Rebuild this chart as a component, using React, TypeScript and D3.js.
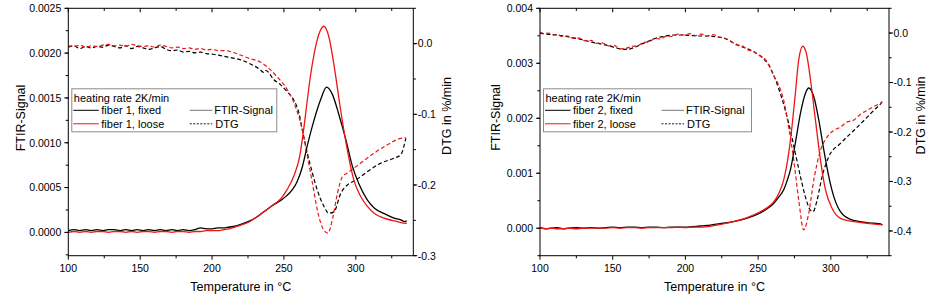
import React from 'react';
import * as d3 from 'd3';

type P = [number, number];

// ---------- data ----------
const xTickValues = [100, 150, 200, 250, 300];

const ftirTicks1 = [0, 0.0005, 0.001, 0.0015, 0.002, 0.0025];
const dtgTicks1 = [0, -0.1, -0.2, -0.3];
const ftirTicks2 = [0, 0.001, 0.002, 0.003, 0.004];
const dtgTicks2 = [0, -0.1, -0.2, -0.3, -0.4];

const legendTitle = 'heating rate 2K/min';
const labels1 = ['fiber 1, fixed', 'fiber 1, loose'];
const labels2 = ['fiber 2, fixed', 'fiber 2, loose'];
const typeLabels = ['FTIR-Signal', 'DTG'];

const fiber1FixedFTIR: P[] = [[100,0.00002],[104,0.00003],[108,0.00002],[112,0.00003],[116,0.00002],[120,0.00003],[124,0.00002],[128,0.00003],[132,0.00003],[136,0.00002],[140,0.00003],[144,0.00002],[148,0.00003],[152,0.00002],[156,0.00003],[160,0.00002],[164,0.00003],[168,0.00002],[172,0.00003],[176,0.00002],[180,0.00003],[184,0.00002],[188,0.00003],[192,0.00005],[196,0.00004],[200,0.00004],[204,0.00005],[208,0.00005],[212,0.00006],[216,0.00007],[220,0.00009],[225,0.00012],[230,0.00016],[236,0.00023],[242,0.0003],[248,0.00036],[252,0.00041],[256,0.00048],[259,0.00056],[262.8,0.00073],[266.3,0.00097],[270.9,0.00125],[275.5,0.00148],[279.7,0.00162],[283.7,0.00154],[288.3,0.00131],[293,0.00104],[297.6,0.00074],[302.2,0.00054],[308.1,0.00036],[313,0.00027],[319.7,0.00021],[326.6,0.00016],[331.3,0.00014],[334,0.00012],[335.5,0.00013]];

const fiber1LooseFTIR: P[] = [[100,0.0],[104,0.00001],[108,0.0],[112,0.00001],[116,0.0],[120,0.00001],[124,0.00001],[128,0.0],[132,0.00001],[136,0.00001],[140,0.0],[144,0.00001],[148,0.0],[152,0.00001],[156,0.00001],[160,0.0],[164,0.00001],[168,0.00001],[172,0.0],[176,0.00001],[180,0.00001],[184,0.0],[188,0.00001],[192,0.00001],[196,0.00002],[200,0.00002],[204,0.00002],[208,0.00003],[212,0.00004],[216,0.00006],[220,0.00008],[225,0.00011],[230,0.00016],[236,0.00023],[242,0.0003],[248,0.00038],[252.3,0.00048],[256.9,0.00063],[261,0.00085],[263.5,0.00112],[266.3,0.00148],[268.5,0.00175],[270.9,0.00198],[274.3,0.00221],[277.8,0.0023],[281.3,0.00218],[284.8,0.00187],[289.5,0.00136],[294.1,0.00092],[298.7,0.00058],[303.4,0.0004],[308.1,0.00029],[313,0.00021],[319.7,0.00016],[326,0.00013],[331.3,0.00011],[335.5,0.0001]];

const fiber1FixedDTG: P[] = [[100,-0.005],[104,-0.003],[108,-0.007],[112,-0.004],[116,-0.006],[120,-0.004],[124,-0.005],[128,-0.002],[132,-0.004],[136,-0.006],[140,-0.003],[144,-0.007],[148,-0.004],[152,-0.006],[156,-0.008],[160,-0.006],[164,-0.004],[168,-0.008],[172,-0.01],[176,-0.009],[180,-0.012],[184,-0.011],[188,-0.013],[192,-0.012],[196,-0.014],[201,-0.015],[206,-0.017],[211,-0.019],[216,-0.021],[220,-0.023],[226,-0.028],[233.6,-0.037],[236,-0.041],[237.5,-0.038],[243,-0.051],[247.6,-0.058],[252.3,-0.068],[256.9,-0.08],[260.4,-0.098],[262.8,-0.122],[266.3,-0.155],[269.8,-0.183],[273.2,-0.207],[277.8,-0.23],[281.3,-0.24],[284.8,-0.238],[289.5,-0.212],[294.1,-0.2],[300,-0.193],[308.1,-0.181],[317.4,-0.169],[326.6,-0.162],[331.3,-0.157],[334.8,-0.134]];

const fiber1LooseDTG: P[] = [[100,-0.003],[104,-0.004],[108,-0.002],[112,-0.005],[116,-0.003],[120,-0.004],[124,-0.002],[128,-0.001],[132,-0.003],[136,-0.002],[140,-0.004],[144,-0.001],[148,-0.003],[152,-0.004],[156,-0.003],[160,-0.005],[164,-0.002],[168,-0.004],[172,-0.006],[176,-0.005],[180,-0.007],[184,-0.006],[188,-0.008],[192,-0.007],[196,-0.009],[200,-0.008],[205,-0.01],[210,-0.01],[214,-0.012],[219.7,-0.016],[226,-0.021],[233.6,-0.026],[239,-0.034],[245.3,-0.047],[252.3,-0.065],[258,-0.089],[262.8,-0.122],[266.3,-0.159],[269.8,-0.197],[273.2,-0.235],[277.8,-0.264],[280.6,-0.268],[283.7,-0.249],[287.2,-0.212],[290.7,-0.188],[294.1,-0.183],[303.4,-0.169],[312.7,-0.155],[322,-0.143],[331.3,-0.134],[334.8,-0.133]];

const fiber2FixedFTIR: P[] = [[100,0.00001],[104,-0.00001],[108,0.0],[112,0.00001],[116,-0.00001],[120,0.0],[125,0.00001],[130,0.0],[135,0.00001],[140,0.0],[145,0.00001],[150,0.00002],[155,0.00001],[160,0.00002],[165,0.00002],[170,0.00001],[175,0.00002],[180,0.00002],[185,0.00001],[190,0.00002],[195,0.00002],[200,0.00002],[205,0.00003],[210,0.00004],[215,0.00005],[220,0.00007],[226,0.00009],[233,0.00012],[242,0.00018],[251.5,0.00028],[256,0.00035],[260.7,0.00045],[264,0.00056],[267.6,0.0007],[270,0.00087],[272.2,0.00106],[275.6,0.00155],[279.1,0.00209],[282.5,0.00245],[284.8,0.00255],[288.3,0.00239],[291.7,0.00197],[295.2,0.00142],[298.6,0.00094],[302.1,0.00057],[306.6,0.0003],[313.5,0.00016],[320,0.00012],[325,0.0001],[330,0.00009],[334.2,0.00008],[335.5,0.00006]];

const fiber2LooseFTIR: P[] = [[100,0.0],[104,-0.00001],[108,0.0],[112,-0.00001],[116,-0.00001],[120,0.0],[125,-0.00001],[130,0.0],[135,0.0],[140,0.0],[145,0.0],[150,0.00001],[155,0.0],[160,0.00001],[165,0.00001],[170,0.0],[175,0.00001],[180,0.00001],[185,0.00001],[190,0.00001],[195,0.00002],[200,0.00001],[205,0.00002],[210,0.00002],[215,0.00003],[220,0.00005],[226,0.00008],[233,0.00012],[242,0.00019],[251.5,0.0003],[256,0.00037],[260.7,0.00048],[264.5,0.00065],[267.6,0.00088],[271,0.00136],[273.3,0.00185],[275.6,0.00245],[277.9,0.00306],[280.7,0.00331],[283.2,0.00318],[286,0.0027],[289.4,0.00197],[292.9,0.00124],[296.3,0.0007],[300.9,0.00036],[306.6,0.00018],[315.8,0.00012],[325,0.00009],[335.3,0.00006]];

const fiber2FixedDTG: P[] = [[100,0.0],[104,-0.002],[108,-0.003],[112,-0.004],[116,-0.006],[120,-0.008],[125,-0.011],[130,-0.014],[135,-0.018],[140,-0.021],[145,-0.024],[150,-0.028],[155,-0.032],[160,-0.033],[165,-0.029],[170,-0.022],[175,-0.016],[180,-0.01],[186,-0.006],[192,-0.004],[198,-0.004],[204,-0.005],[210,-0.006],[216,-0.006],[222,-0.008],[227,-0.011],[232,-0.018],[237,-0.026],[242,-0.031],[247,-0.038],[251,-0.045],[254,-0.053],[257.5,-0.065],[260.7,-0.085],[264.1,-0.112],[268.7,-0.156],[272.2,-0.197],[275.6,-0.243],[279.1,-0.29],[282.5,-0.331],[285.9,-0.358],[287.8,-0.361],[290.6,-0.337],[294,-0.29],[298.6,-0.25],[306.6,-0.223],[315.8,-0.197],[325,-0.17],[330,-0.155],[334.2,-0.143],[335.5,-0.138]];

const fiber2LooseDTG: P[] = [[100,0.002],[103,-0.001],[106,0.0],[109,-0.004],[112,-0.003],[115,-0.007],[119,-0.006],[123,-0.011],[127,-0.01],[131,-0.016],[135,-0.015],[139,-0.021],[143,-0.02],[147,-0.026],[151,-0.025],[155,-0.032],[159,-0.031],[163,-0.027],[167,-0.026],[171,-0.019],[175,-0.018],[179,-0.011],[183,-0.012],[187,-0.006],[191,-0.007],[195,-0.002],[199,-0.004],[203,-0.001],[207,-0.005],[211,-0.002],[215,-0.006],[219,-0.003],[223,-0.008],[227,-0.01],[231,-0.016],[235,-0.024],[239,-0.026],[243,-0.034],[247,-0.037],[251,-0.046],[254,-0.05],[257.5,-0.066],[261,-0.088],[264.1,-0.105],[267.6,-0.136],[271,-0.19],[274.5,-0.257],[277.9,-0.337],[281.4,-0.398],[284.8,-0.364],[288.3,-0.297],[292.9,-0.237],[297.5,-0.21],[302,-0.197],[306.6,-0.19],[311,-0.18],[315.8,-0.176],[320,-0.165],[325,-0.156],[330,-0.148],[335.3,-0.14]];

// ---------- styling ----------
const FONT = '"Liberation Sans", Arial, Helvetica, sans-serif';
const RED = '#f01414';
const BLACK = '#000';

interface PanelProps {
  left: number; right: number; top: number; bottom: number;
  yDomain: [number, number]; y2Domain: [number, number];
  yTicks: number[]; y2Ticks: number[]; yDigits: number;
  yMinorStep: number;
  fixedF: P[]; looseF: P[]; fixedD: P[]; looseD: P[];
  labels: string[];
  yTitleX: number; yTitleY: number; y2TitleX: number; y2TitleY: number;
  legendW: number;
}

function Panel(p: PanelProps) {
  const x = d3.scaleLinear().domain([100, 340]).range([p.left, p.right]);
  const y = d3.scaleLinear().domain(p.yDomain).range([p.bottom, p.top]);
  const y2 = d3.scaleLinear().domain(p.y2Domain).range([p.bottom, p.top]);
  const lineF = d3.line<P>().x(d => x(d[0])).y(d => y(d[1])).curve(d3.curveMonotoneX);
  const lineD = d3.line<P>().x(d => x(d[0])).y(d => y2(d[1])).curve(d3.curveMonotoneX);

  const xMinor = d3.range(100, 341, 25).filter(v => !xTickValues.includes(v));
  const yMinor = d3.range(Math.ceil(p.yDomain[0] / p.yMinorStep - 1e-6), Math.floor(p.yDomain[1] / p.yMinorStep + 1e-6) + 1).map(k => k * p.yMinorStep);
  const y2Minor = d3.range(Math.ceil(p.y2Domain[0] / 0.05 - 1e-6), Math.floor(p.y2Domain[1] / 0.05 + 1e-6) + 1).map(k => k * 0.05);

  const fmtY = (v: number) => v.toFixed(p.yDigits);
  const fmtY2 = (v: number) => (Math.abs(v) < 1e-9 ? '0.0' : v.toFixed(1));

  const lx = p.left + 3.5;
  const ly = 88.8;
  const tick = 4;
  const minor = 2.6;

  return (
    <g fontFamily={FONT}>
      <defs>
        <clipPath id={`clip${p.left}`}>
          <rect x={p.left} y={p.top} width={p.right - p.left} height={p.bottom - p.top} />
        </clipPath>
      </defs>
      <g clipPath={`url(#clip${p.left})`} fill="none">
        <path d={lineD(p.fixedD) || ''} stroke={BLACK} strokeWidth={1.2} strokeDasharray="4 2.5" />
        <path d={lineD(p.looseD) || ''} stroke={RED} strokeWidth={1.2} strokeDasharray="4 2.5" />
        <path d={lineF(p.fixedF) || ''} stroke={BLACK} strokeWidth={1.3} />
        <path d={lineF(p.looseF) || ''} stroke={RED} strokeWidth={1.3} />
      </g>
      <rect x={p.left} y={p.top} width={p.right - p.left} height={p.bottom - p.top} fill="none" stroke="#000" strokeWidth={1} />
      {xTickValues.map(v => (
        <g key={'x' + v}>
          <line x1={x(v)} x2={x(v)} y1={p.bottom} y2={p.bottom + tick} stroke="#000" />
          <line x1={x(v)} x2={x(v)} y1={p.top} y2={p.top + tick} stroke="#000" />
          <text x={x(v)} y={271.5} fontSize={10.5} textAnchor="middle">{v}</text>
        </g>
      ))}
      {xMinor.map(v => (
        <g key={'xm' + v}>
          <line x1={x(v)} x2={x(v)} y1={p.bottom} y2={p.bottom + minor} stroke="#000" />
          <line x1={x(v)} x2={x(v)} y1={p.top} y2={p.top + minor} stroke="#000" />
        </g>
      ))}
      {p.yTicks.map(v => (
        <g key={'y' + v}>
          <line x1={p.left - tick} x2={p.left} y1={y(v)} y2={y(v)} stroke="#000" />
          <text x={p.left - 7} y={y(v) + 3.8} fontSize={10.5} textAnchor="end">{fmtY(v)}</text>
        </g>
      ))}
      {yMinor.map((v, i) => (
        <line key={'ym' + i} x1={p.left - minor} x2={p.left} y1={y(v)} y2={y(v)} stroke="#000" />
      ))}
      {p.y2Ticks.map(v => (
        <g key={'y2' + v}>
          <line x1={p.right} x2={p.right + tick} y1={y2(v)} y2={y2(v)} stroke="#000" />
          <text x={p.right + 4.5} y={y2(v) + 3.8} fontSize={10.5} textAnchor="start">{fmtY2(v)}</text>
        </g>
      ))}
      {y2Minor.map((v, i) => (
        <line key={'y2m' + i} x1={p.right} x2={p.right + minor} y1={y2(v)} y2={y2(v)} stroke="#000" />
      ))}
      <text x={(p.left + p.right) / 2} y={291} fontSize={12.5} textAnchor="middle">Temperature in °C</text>
      <text transform={`translate(${p.yTitleX},${p.yTitleY}) rotate(-90)`} fontSize={12.5} textAnchor="middle" dy="0.36em">FTIR-Signal</text>
      <text transform={`translate(${p.y2TitleX},${p.y2TitleY}) rotate(-90)`} fontSize={12.5} textAnchor="middle" dy="0.36em">DTG in %/min</text>
      <g>
        <rect x={lx} y={ly} width={p.legendW} height={43} fill="#fff" stroke="#8c8c8c" strokeWidth={1} />
        <text x={lx + 2} y={ly + 13} fontSize={11}>{legendTitle}</text>
        <line x1={lx + 1.5} x2={lx + 27} y1={ly + 21.5} y2={ly + 21.5} stroke={BLACK} strokeWidth={1} />
        <text x={lx + 29.5} y={ly + 25.5} fontSize={11}>{p.labels[0]}</text>
        <line x1={lx + 1.5} x2={lx + 27} y1={ly + 35} y2={ly + 35} stroke={RED} strokeWidth={1} />
        <text x={lx + 29.5} y={ly + 39} fontSize={11}>{p.labels[1]}</text>
        <line x1={lx + 118} x2={lx + 140.5} y1={ly + 21.5} y2={ly + 21.5} stroke="#777" strokeWidth={1} />
        <text x={lx + 142.5} y={ly + 25.5} fontSize={11}>{typeLabels[0]}</text>
        <line x1={lx + 118} x2={lx + 140.5} y1={ly + 35} y2={ly + 35} stroke="#000" strokeWidth={0.9} strokeDasharray="2 1.5" />
        <text x={lx + 143.5} y={ly + 39} fontSize={11}>{typeLabels[1]}</text>
      </g>
    </g>
  );
}

export default function App() {
  return (
    <svg width={928} height={297} viewBox="0 0 928 297"
      style={{ position: 'absolute', left: 0, top: 0, background: '#fff' }}>
      <rect x={0} y={0} width={928} height={297} fill="#fff" />
      <Panel
        left={68.3} right={413.3} top={8.3} bottom={255.7}
        yDomain={[-0.00026, 0.0025]} y2Domain={[-0.3, 0.05]}
        yTicks={ftirTicks1} y2Ticks={dtgTicks1} yDigits={4} yMinorStep={0.00025}
        fixedF={fiber1FixedFTIR} looseF={fiber1LooseFTIR}
        fixedD={fiber1FixedDTG} looseD={fiber1LooseDTG}
        labels={labels1}
        yTitleX={20} yTitleY={118} y2TitleX={446} y2TitleY={116}
        legendW={205}
      />
      <Panel
        left={540} right={889} top={8.3} bottom={255.7}
        yDomain={[-0.0005, 0.004]} y2Domain={[-0.45, 0.05]}
        yTicks={ftirTicks2} y2Ticks={dtgTicks2} yDigits={3} yMinorStep={0.0005}
        fixedF={fiber2FixedFTIR} looseF={fiber2LooseFTIR}
        fixedD={fiber2FixedDTG} looseD={fiber2LooseDTG}
        labels={labels2}
        yTitleX={495.7} yTitleY={117.5} y2TitleX={920.5} y2TitleY={115.5}
        legendW={208}
      />
    </svg>
  );
}
